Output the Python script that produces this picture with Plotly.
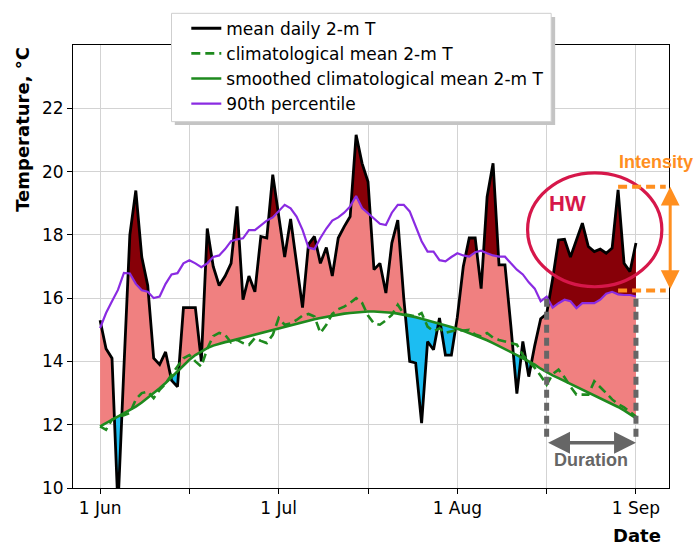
import plotly.graph_objects as go

# ---------------- data ----------------
day_index = list(range(91))  # 0 = 1 Jun ... 90 = 1 Sep
tick_vals = [0, 15, 30, 45, 60, 75, 90]
tick_text = ["1 Jun", "", "1 Jul", "", "1 Aug", "", "1 Sep"]
y_ticks = [10, 12, 14, 16, 18, 20, 22]

mean_daily_t = [
    15.3, 14.4, 14.1, 9.4, 13.8, 18.0, 19.4, 17.3, 16.4, 14.1,
    13.9, 14.3, 13.4, 13.2, 15.7, 15.7, 15.7, 14.0, 18.2, 17.0,
    16.4, 16.7, 17.1, 18.9, 15.95, 16.7, 16.2, 17.95, 17.9, 19.9,
    18.6, 17.3, 18.5, 17.1, 15.7, 17.7, 17.95, 17.1, 17.6, 16.7,
    17.9, 18.26, 18.58, 21.16, 20.26, 19.68, 16.9, 17.1, 16.16, 17.74,
    18.47, 16.0, 14.0, 13.95, 12.05, 14.63, 14.37, 15.37, 14.2, 14.2,
    15.4, 17.0, 17.9, 17.9, 16.3, 19.2, 20.26, 17.05, 17.05, 15.1,
    12.98, 14.63, 13.52, 14.5, 15.35, 15.5, 16.6, 17.84, 17.86, 17.3,
    17.84, 18.37, 17.63, 17.47, 17.55, 17.42, 17.58, 19.42, 17.1, 16.84,
    17.74,
]

clim_mean_t = [
    11.95, 11.84, 12.16, 12.26, 12.3, 12.37, 12.8, 13.0, 13.05, 12.84,
    13.1, 13.3, 13.58, 13.85, 14.1, 14.2, 14.0, 13.84, 14.4, 14.8,
    14.9, 14.84, 14.6, 14.68, 14.58, 14.52, 14.74, 14.65, 14.58, 14.84,
    15.37, 15.16, 15.2, 15.31, 15.45, 15.5, 15.42, 14.9, 15.16, 15.5,
    15.65, 15.73, 15.85, 16.0, 15.85, 15.45, 15.2, 15.16, 15.3, 15.47,
    15.79, 15.5, 15.45, 15.42, 15.53, 15.1, 14.95, 15.05, 14.9, 14.95,
    15.0, 14.98, 15.0, 14.85, 14.79, 14.9, 14.75, 14.68, 14.63, 14.6,
    14.53, 14.2, 14.0, 13.8, 13.55, 13.26, 13.6, 13.74, 13.5, 13.2,
    12.95, 12.95, 12.95, 13.37, 13.2, 13.0, 12.8, 12.65, 12.55, 12.4,
    12.26,
]

smooth_clim_t = [
    11.95, 12.05, 12.15, 12.25, 12.35, 12.45, 12.57, 12.70, 12.84, 13.00,
    13.15, 13.32, 13.50, 13.68, 13.88, 14.05, 14.20, 14.32, 14.42, 14.50,
    14.56, 14.61, 14.65, 14.70, 14.74, 14.79, 14.84, 14.89, 14.94, 14.99,
    15.04, 15.09, 15.14, 15.19, 15.24, 15.29, 15.33, 15.37, 15.41, 15.45,
    15.48, 15.51, 15.53, 15.55, 15.57, 15.58, 15.58, 15.57, 15.56, 15.54,
    15.51, 15.48, 15.44, 15.40, 15.35, 15.30, 15.25, 15.20, 15.15, 15.10,
    15.03, 14.97, 14.90, 14.83, 14.75, 14.67, 14.58, 14.49, 14.40, 14.30,
    14.20, 14.10, 14.00, 13.90, 13.77, 13.66, 13.56, 13.47, 13.38, 13.29,
    13.20, 13.11, 13.02, 12.93, 12.84, 12.75, 12.66, 12.56, 12.45, 12.34,
    12.21,
]

pct90_t = [
    15.05, 15.53, 15.9, 16.26, 16.8, 16.78, 16.45, 16.25, 16.2, 16.0,
    16.05, 16.45, 16.75, 16.79, 17.1, 17.2, 17.1, 16.98, 17.1, 17.3,
    17.35, 17.55, 17.8, 17.86, 17.89, 18.15, 18.15, 18.3, 18.45, 18.55,
    18.75, 18.95, 18.84, 18.58, 18.16, 17.6, 17.55, 17.9, 18.2, 18.45,
    18.55, 18.7, 18.9, 19.23, 18.85, 18.68, 18.5, 18.35, 18.31, 18.7,
    18.95, 18.95, 18.74, 18.26, 17.8, 17.47, 17.47, 17.2, 17.16, 17.3,
    17.42, 17.35, 17.31, 17.45, 17.5, 17.42, 17.35, 17.31, 17.31, 17.1,
    16.9, 16.75, 16.5, 16.3, 15.9, 16.05, 15.7, 15.84, 15.95, 15.9,
    15.68, 15.84, 15.84, 15.84, 15.95, 16.14, 16.2, 16.12, 16.1, 16.1,
    16.05,
]

hw_start, hw_end = 75, 90
hw_peak_day = 87

# ---------------- styles ----------------
C_PINK = "#F08080"
C_CYAN = "#1CBDF2"
C_DARK = "#870008"
C_GREEN = "#1E8A1E"
C_PURPLE = "#8A2BE2"
C_CRIMSON = "#D6174A"
C_ORANGE = "#FF8F1F"
C_GRAY = "#666666"


def with_crossings(x, a, b):
    xs, av, bv = [], [], []
    for k in range(len(x)):
        if k > 0:
            d0 = a[k - 1] - b[k - 1]
            d1 = a[k] - b[k]
            if d0 * d1 < 0:
                t = d0 / (d0 - d1)
                xc = x[k - 1] + t * (x[k] - x[k - 1])
                yc = a[k - 1] + t * (a[k] - a[k - 1])
                xs.append(xc); av.append(yc); bv.append(yc)
        xs.append(x[k]); av.append(a[k]); bv.append(b[k])
    return xs, av, bv


fig = go.Figure()


def band(xs, lower, upper, color):
    fig.add_trace(go.Scatter(x=xs, y=lower, mode="lines", line=dict(width=0),
                             showlegend=False, hoverinfo="skip"))
    fig.add_trace(go.Scatter(x=xs, y=upper, mode="lines", line=dict(width=0),
                             fill="tonexty", fillcolor=color,
                             showlegend=False, hoverinfo="skip"))


xs, a, b = with_crossings(day_index, mean_daily_t, smooth_clim_t)
band(xs, b, [max(p, q) for p, q in zip(a, b)], C_PINK)
band(xs, b, [min(p, q) for p, q in zip(a, b)], C_CYAN)
xs2, a2, b2 = with_crossings(day_index, mean_daily_t, pct90_t)
band(xs2, b2, [max(p, q) for p, q in zip(a2, b2)], C_DARK)

fig.add_trace(go.Scatter(x=day_index, y=mean_daily_t, mode="lines",
                         name="mean daily 2-m T", legendgroup="g1",
                         line=dict(color="black", width=2.8)))
fig.add_trace(go.Scatter(x=day_index, y=clim_mean_t, mode="lines",
                         name="climatological mean 2-m T", legendgroup="g2",
                         line=dict(color=C_GREEN, width=2.6, dash="9px,5px")))
fig.add_trace(go.Scatter(x=day_index, y=smooth_clim_t, mode="lines",
                         name="smoothed climatological mean 2-m T",
                         legendgroup="g3",
                         line=dict(color=C_GREEN, width=2.6)))
fig.add_trace(go.Scatter(x=day_index, y=pct90_t, mode="lines",
                         name="90th percentile", legendgroup="g4",
                         line=dict(color=C_PURPLE, width=2.2)))

shapes = []
# legend shadow + box
shapes.append(dict(type="rect", xref="paper", yref="paper",
                   x0=0.1708, x1=0.8090, y0=0.8195, y1=1.0632,
                   fillcolor="#c4c4c4", line=dict(width=0), layer="above"))
shapes.append(dict(type="rect", xref="paper", yref="paper",
                   x0=0.16527, x1=0.80232, y0=0.82698, y1=1.07151,
                   fillcolor="white", line=dict(color="#cfcfcf", width=1),
                   layer="above"))
# heat-wave ellipse
shapes.append(dict(type="circle", xref="x", yref="y",
                   x0=71.8, x1=94.35, y0=16.36, y1=19.96,
                   line=dict(color=C_CRIMSON, width=3.2), layer="above"))
# duration dashed verticals
for xv in (hw_start, hw_end):
    shapes.append(dict(type="line", xref="x", yref="y",
                       x0=xv, x1=xv, y0=11.62, y1=pct90_t[xv],
                       line=dict(color=C_GRAY, width=5, dash="8px,5px"),
                       layer="above"))
# intensity dashed horizontals
for yv in (19.52, 16.24):
    shapes.append(dict(type="line", xref="x", yref="y",
                       x0=hw_peak_day, x1=95.0, y0=yv, y1=yv,
                       line=dict(color=C_ORANGE, width=4, dash="9px,5px"),
                       layer="above"))

annotations = [
    dict(text="<b>Temperature, °C</b>", xref="paper", yref="paper",
         x=-0.085, y=1.0, xanchor="center", yanchor="top", textangle=-90,
         showarrow=False, font=dict(size=18, color="black")),
    dict(text="<b>Date</b>", xref="paper", yref="paper",
         x=0.9904, y=-0.108, xanchor="right", yanchor="middle",
         showarrow=False, font=dict(size=18, color="black")),
    dict(text="<b>HW</b>", x=78.5, y=19.0, xref="x", yref="y",
         showarrow=False,
         font=dict(size=22, color=C_CRIMSON, family="Liberation Sans")),
    dict(text="<b>Intensity</b>", x=93.3, y=20.3, xref="x", yref="y",
         showarrow=False,
         font=dict(size=18, color=C_ORANGE, family="Liberation Sans")),
    dict(text="<b>Duration</b>", x=82.5, y=10.89, xref="x", yref="y",
         showarrow=False,
         font=dict(size=18, color=C_GRAY, family="Liberation Sans")),
    # duration arrow
    dict(text="", x=hw_end, y=11.43, ax=hw_start, ay=11.43,
         xref="x", yref="y", axref="x", ayref="y",
         showarrow=True, arrowside="end+start", arrowhead=2,
         arrowsize=1.25, arrowwidth=3.5, arrowcolor=C_GRAY,
         standoff=0, startstandoff=0),
    # intensity arrow
    dict(text="", x=1.002, y=19.52, ax=1.002, ay=16.24,
         xref="x domain", yref="y", axref="x domain", ayref="y",
         showarrow=True, arrowside="end+start", arrowhead=2,
         arrowsize=1.25, arrowwidth=3, arrowcolor=C_ORANGE,
         standoff=0, startstandoff=0),
]

fig.update_layout(
    width=693, height=546,
    margin=dict(l=73.3, r=24.3, t=45, b=57.7, autoexpand=False),
    paper_bgcolor="white", plot_bgcolor="white",
    font=dict(family="DejaVu Sans", size=17, color="black"),
    shapes=shapes, annotations=annotations,
    legend=dict(x=0.1901, y=1.0774, xanchor="left", yanchor="top",
                bgcolor="rgba(0,0,0,0)", borderwidth=0,
                font=dict(size=17), traceorder="grouped",
                tracegroupgap=0),
)
fig.update_xaxes(range=[-4.55, 95.55], tickvals=tick_vals, ticktext=tick_text,
                 showgrid=True, gridcolor="#d3d3d3", gridwidth=1,
                 showline=True, linecolor="black", linewidth=1, mirror=True,
                 ticks="outside", ticklen=5, tickcolor="black", zeroline=False)
fig.update_yaxes(range=[10, 24], tickvals=y_ticks,
                 showgrid=True, gridcolor="#d3d3d3", gridwidth=1,
                 showline=True, linecolor="black", linewidth=1, mirror=True,
                 ticks="outside", ticklen=5, tickcolor="black", zeroline=False)

fig.write_html("out.html")
